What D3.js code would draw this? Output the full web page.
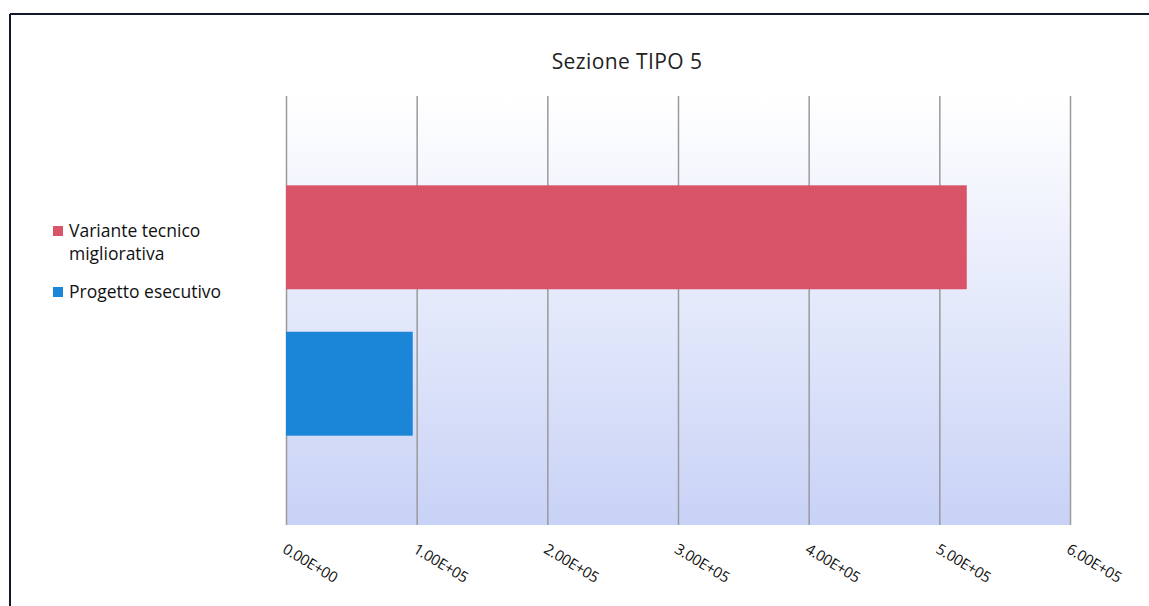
<!DOCTYPE html>
<html>
<head>
<meta charset="utf-8">
<script src="https://cdn.jsdelivr.net/npm/d3@7/dist/d3.min.js"></script>
<style>
  html, body { margin: 0; padding: 0; background: #fff; }
  svg { display: block; }
</style>
</head>
<body>
<svg id="chart" width="1149" height="606"></svg>
<script>
// Chart data
const title = "Sezione TIPO 5";
const series = ["Variante tecnico migliorativa", "Progetto esecutivo"];
const legendLines = [["Variante tecnico", "migliorativa"], ["Progetto esecutivo"]];
const values = [521000, 97000];
const colors = ["#d95468", "#1b86d7"];
const xTicks = [0, 100000, 200000, 300000, 400000, 500000, 600000];

const svg = d3.select("#chart");
const W = 1149, H = 606;
const plot = { left: 286, right: 1070, top: 96, bottom: 525 };
const font = "'Open Sans', Lato, sans-serif";

// Outer frame (top and left edges visible)
svg.append("line").attr("x1", 10).attr("x2", W).attr("y1", 14).attr("y2", 14)
  .attr("stroke", "#111827").attr("stroke-width", 2);
svg.append("line").attr("x1", 10).attr("x2", 10).attr("y1", 14).attr("y2", H)
  .attr("stroke", "#111827").attr("stroke-width", 2);

// Plot background gradient
const defs = svg.append("defs");
const grad = defs.append("linearGradient").attr("id", "bg")
  .attr("x1", 0).attr("y1", 0).attr("x2", 0).attr("y2", 1);
grad.append("stop").attr("offset", "0%").attr("stop-color", "#ffffff");
grad.append("stop").attr("offset", "100%").attr("stop-color", "#c8d2f6");

const x = d3.scaleLinear().domain([0, 600000]).range([plot.left, plot.right]);
const y = d3.scaleBand().domain(series).range([plot.top, plot.bottom])
  .paddingInner(0.29).paddingOuter(0.61);

svg.append("rect")
  .attr("x", plot.left).attr("y", plot.top)
  .attr("width", plot.right - plot.left).attr("height", plot.bottom - plot.top)
  .attr("fill", "url(#bg)");

// Excel-like scientific format: 1.00E+05
function sci(v) {
  const s = d3.format(".2e")(v);
  const [m, e] = s.split("e");
  const sign = e[0] === "-" ? "-" : "+";
  const digits = e.replace(/[+-]/, "").padStart(2, "0");
  return m + "E" + sign + digits;
}

// Vertical gridlines via axis
const gridAxis = d3.axisBottom(x).tickValues(xTicks)
  .tickSize(-(plot.bottom - plot.top)).tickFormat("");
const grid = svg.append("g").attr("transform", `translate(0,${plot.bottom})`).call(gridAxis);
grid.select(".domain").remove();
grid.selectAll(".tick line").attr("stroke", "#9a9a9a").attr("stroke-width", 1.5);

// Bars
svg.append("g").selectAll("rect").data(series).join("rect")
  .attr("x", x(0))
  .attr("y", d => y(d))
  .attr("width", (d, i) => x(values[i]) - x(0))
  .attr("height", y.bandwidth())
  .attr("fill", (d, i) => colors[i]);

// Tick labels (rotated)
const labelAxis = d3.axisBottom(x).tickValues(xTicks).tickSize(0).tickFormat(sci);
const lab = svg.append("g").attr("transform", `translate(0,${plot.bottom})`).call(labelAxis);
lab.select(".domain").remove();
lab.selectAll(".tick text")
  .attr("font-family", font).attr("font-size", 15).attr("fill", "#111")
  .attr("letter-spacing", -0.4)
  .attr("text-anchor", "start")
  .attr("x", 0).attr("y", 0).attr("dy", 0)
  .attr("transform", "translate(-5,27) rotate(31)");

// Title
svg.append("text").attr("x", 627).attr("y", 69)
  .attr("text-anchor", "middle")
  .attr("font-family", font).attr("font-size", 21).attr("fill", "#222")
  .attr("letter-spacing", 0.4)
  .text(title);

// Legend
const legendY = [237, 298];
const lg = svg.append("g");
series.forEach((s, i) => {
  lg.append("rect").attr("x", 53).attr("y", legendY[i] - 11)
    .attr("width", 10).attr("height", 10).attr("fill", colors[i]);
  const t = lg.append("text").attr("x", 69).attr("y", legendY[i])
    .attr("font-family", font).attr("font-size", 17.5).attr("fill", "#111");
  legendLines[i].forEach((line, j) => {
    t.append("tspan").attr("x", 69).attr("dy", j === 0 ? 0 : 23).text(line);
  });
});
</script>
</body>
</html>
